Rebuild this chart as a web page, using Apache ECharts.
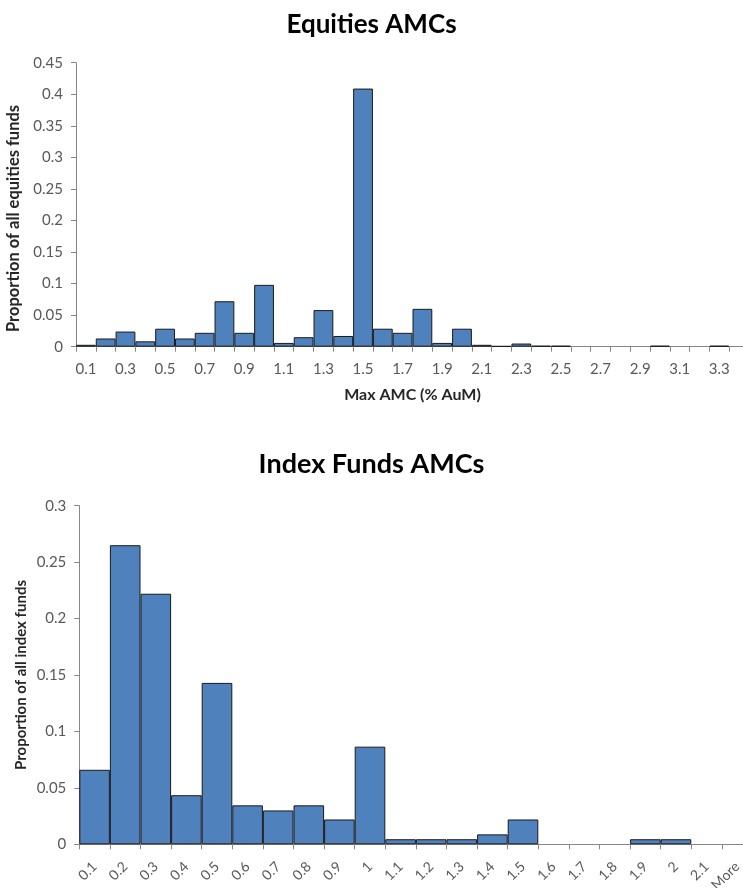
<!DOCTYPE html>
<html>
<head>
<meta charset="utf-8">
<script src="https://cdn.jsdelivr.net/npm/echarts@6/dist/echarts.min.js"></script>
<style>html,body{margin:0;padding:0;background:#fff}#c{width:743px;height:888px}</style>
</head>
<body>
<div id="c"></div>
<script>
// Equities AMCs
const eqCategories = ['0.1','0.2','0.3','0.4','0.5','0.6','0.7','0.8','0.9','1','1.1','1.2','1.3','1.4','1.5','1.6','1.7','1.8','1.9','2','2.1','2.2','2.3','2.4','2.5','2.6','2.7','2.8','2.9','3','3.1','3.2','3.3','3.4'];
const eqValues = [0.003,0.013,0.024,0.0085,0.0285,0.013,0.022,0.072,0.022,0.098,0.006,0.015,0.058,0.017,0.409,0.0285,0.022,0.060,0.006,0.0285,0.003,0.001,0.005,0.0015,0.0015,0,0,0,0,0.0015,0,0,0.0015,0];
const eqXLabels = ['0.1','0.3','0.5','0.7','0.9','1.1','1.3','1.5','1.7','1.9','2.1','2.3','2.5','2.7','2.9','3.1','3.3'];

// Index Funds AMCs
const ixCategories = ['0.1','0.2','0.3','0.4','0.5','0.6','0.7','0.8','0.9','1','1.1','1.2','1.3','1.4','1.5','1.6','1.7','1.8','1.9','2','2.1','More'];
const ixValues = [0.066,0.265,0.222,0.0435,0.143,0.0345,0.030,0.0345,0.022,0.0865,0.0045,0.0045,0.0045,0.0088,0.022,0,0,0,0.0045,0.0045,0,0];

const FONT = 'Lato';
const barColor = '#4F81BD';
const axisGray = '#868686';
const labelGray = '#595959';

const chart = echarts.init(document.getElementById('c'), null, {renderer:'canvas'});
const toData = a => a.map(v => v === 0 ? '-' : v);

function xAxisCommon() {
  return {
    type:'category', boundaryGap:true,
    axisLine:{show:true, lineStyle:{color:axisGray, width:1}},
    axisTick:{show:true, interval:0, length:5, lineStyle:{color:axisGray}},
    splitLine:{show:false}
  };
}
function yAxisCommon() {
  return {
    type:'value', min:0,
    axisLine:{show:true, lineStyle:{color:axisGray, width:1}},
    axisTick:{show:true, length:5, lineStyle:{color:axisGray}},
    splitLine:{show:false},
    axisLabel:{color:labelGray, fontSize:15, fontFamily:FONT, margin:13}
  };
}

chart.setOption({
  animation:false,
  backgroundColor:'#fff',
  title:[
    {text:'Equities AMCs', left:'center', top:7, textStyle:{fontFamily:FONT, fontSize:26, fontWeight:'bold', color:'#000'}},
    {text:'Index Funds AMCs', left:'center', top:446, textStyle:{fontFamily:FONT, fontSize:27, fontWeight:'bold', color:'#000'}}
  ],
  grid:[
    {left:76, right:-6, top:62.7, bottom:541.3, containLabel:false, outerBoundsMode:'none'},
    {left:79.3, right:-9.5, top:505.7, bottom:43.7, containLabel:false, outerBoundsMode:'none'}
  ],
  xAxis:[
    Object.assign(xAxisCommon(), {
      gridIndex:0, data:eqCategories,
      name:'Max AMC (% AuM)', nameLocation:'middle', nameGap:40,
      nameTextStyle:{fontFamily:FONT, fontSize:16, fontWeight:'bold', color:'#262626'},
      axisLabel:{color:labelGray, fontSize:15, fontFamily:FONT, margin:15,
        interval:(i, v) => eqXLabels.indexOf(v) >= 0}
    }),
    Object.assign(xAxisCommon(), {
      gridIndex:1, data:ixCategories,
      axisLabel:{color:labelGray, fontSize:14, fontFamily:FONT, margin:20, rotate:45, interval:0}
    })
  ],
  yAxis:[
    Object.assign(yAxisCommon(), {gridIndex:0, max:0.45, interval:0.05}),
    Object.assign(yAxisCommon(), {gridIndex:1, max:0.3, interval:0.05})
  ],
  series:[
    {type:'bar', xAxisIndex:0, yAxisIndex:0, data:toData(eqValues), barCategoryGap:'0%',
      itemStyle:{color:barColor, borderColor:'#1a1a1a', borderWidth:1}},
    {type:'bar', xAxisIndex:1, yAxisIndex:1, data:toData(ixValues), barCategoryGap:'0%',
      itemStyle:{color:barColor, borderColor:'#1a1a1a', borderWidth:1}}
  ],
  graphic:[
    {type:'text', x:14, y:218.5, rotation:Math.PI/2,
      style:{text:'Proportion of all equities funds', font:'bold 16.5px '+FONT, fill:'#262626', align:'center', verticalAlign:'middle'}},
    {type:'text', x:21.5, y:675, rotation:Math.PI/2,
      style:{text:'Proportion of all index funds', font:'bold 15px '+FONT, fill:'#262626', align:'center', verticalAlign:'middle'}}
  ]
});
</script>
</body>
</html>
